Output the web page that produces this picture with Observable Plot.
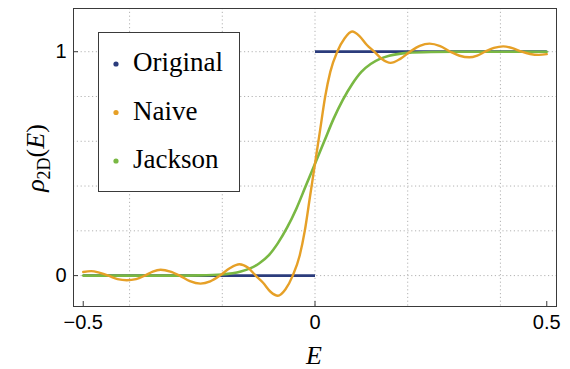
<!DOCTYPE html>
<html>
<head>
<meta charset="utf-8">
<script src="https://cdn.jsdelivr.net/npm/d3@7"></script>
<script src="https://cdn.jsdelivr.net/npm/@observablehq/plot@0.6"></script>
<style>
  html, body { margin: 0; padding: 0; background: #fff; }
  #chart { width: 570px; height: 369px; }
</style>
</head>
<body>
<div id="chart"></div>
<script>
// ---- data ----
const seriesNames = ["Original", "Naive", "Jackson"];
const seriesColors = ["#2b3c7c", "#e6a027", "#79b843"];

// Original: step function, as two horizontal pieces
const origStart = [-0.5, 0];
const origEnd = [0, 0.5];
const origLevel = [0, 1];

// Naive (Gibbs oscillations)
const naiveE = [
  -0.500, -0.483, -0.464, -0.446, -0.426, -0.406, -0.386, -0.367, -0.350, -0.333,
  -0.312, -0.292, -0.270, -0.247, -0.226, -0.205, -0.184, -0.163, -0.145, -0.128,
  -0.112, -0.096, -0.080, -0.064, -0.048, -0.033, -0.022, -0.011, 0.000,
  0.011, 0.022, 0.033, 0.048, 0.064, 0.080, 0.096, 0.112, 0.128, 0.145,
  0.163, 0.184, 0.205, 0.226, 0.247, 0.270, 0.292, 0.312, 0.333, 0.350,
  0.367, 0.386, 0.406, 0.426, 0.446, 0.464, 0.483, 0.500
];
const naiveRho = [
  0.016, 0.020, 0.012, 0.000, -0.016, -0.021, -0.016, 0.000, 0.018, 0.026,
  0.018, 0.000, -0.025, -0.036, -0.026, 0.000, 0.033, 0.051, 0.036, 0.000,
  -0.032, -0.072, -0.090, -0.062, 0.000, 0.090, 0.200, 0.350, 0.500,
  0.650, 0.800, 0.910, 1.000, 1.060, 1.090, 1.070, 1.030, 1.000, 0.966,
  0.950, 0.968, 1.000, 1.026, 1.036, 1.025, 1.000, 0.982, 0.975, 0.983,
  1.000, 1.017, 1.024, 1.016, 1.000, 0.990, 0.986, 0.989
];

// Jackson (smoothed)
const jacksonE = [
  -0.50, -0.30, -0.25, -0.20, -0.16, -0.14, -0.12, -0.10, -0.08, -0.06, -0.04, -0.02,
  0.00, 0.02, 0.04, 0.06, 0.08, 0.10, 0.12, 0.14, 0.16, 0.20, 0.25, 0.30, 0.50
];
const jacksonRho = [
  0.000, 0.000, 0.001, 0.005, 0.018, 0.032, 0.055, 0.090, 0.145, 0.215, 0.300, 0.400,
  0.500, 0.600, 0.700, 0.785, 0.855, 0.910, 0.945, 0.968, 0.982, 0.995, 0.999, 1.000, 1.000
];

const xTicks = [-0.5, 0, 0.5];
const yTicks = [0, 1];
const xGrid = [-0.4, -0.2, 0, 0.2, 0.4];
const yGrid = [0, 0.2, 0.4, 0.6, 0.8, 1];

// ---- tables ----
const original = origStart.map((s, i) => ({x1: s, x2: origEnd[i], y: origLevel[i]}));
const naive = naiveE.map((e, i) => ({E: e, rho: naiveRho[i]}));
const jackson = jacksonE.map((e, i) => ({E: e, rho: jacksonRho[i]}));

const gridStyle = {stroke: "#b3b3b3", strokeOpacity: 1, strokeWidth: 1, strokeDasharray: "1.2,2.6"};

const svg = Plot.plot({
  width: 570,
  height: 369,
  marginLeft: 73,
  marginRight: 14,
  marginTop: 8,
  marginBottom: 63,
  x: {domain: [-0.521, 0.521]},
  y: {domain: [-0.138, 1.193]},
  style: {fontFamily: "Liberation Sans, Arial, sans-serif", fontSize: "20px", color: "#000", background: "#fff"},
  marks: [
    Plot.gridX(xGrid, gridStyle),
    Plot.gridY(yGrid, gridStyle),
    Plot.link(original, {x1: "x1", x2: "x2", y1: "y", y2: "y", stroke: seriesColors[0], strokeWidth: 2.8}),
    Plot.line(jackson, {x: "E", y: "rho", stroke: seriesColors[2], strokeWidth: 2.6, curve: "monotone-x"}),
    Plot.line(naive, {x: "E", y: "rho", stroke: seriesColors[1], strokeWidth: 2.4, curve: "monotone-x"}),
    Plot.frame({stroke: "#3a3a3a", strokeWidth: 1}),
    Plot.axisX(xTicks, {tickSize: -5, tickPadding: 13, fontSize: 20, tickFormat: d3.format(".1~f"), label: null, stroke: "#3a3a3a"}),
    Plot.axisY(yTicks, {tickSize: -5, tickPadding: 12, fontSize: 20, tickFormat: d3.format("d"), label: null, stroke: "#3a3a3a"})
  ]
});

document.getElementById("chart").appendChild(svg);

// ---- axis labels and legend ----
const s = d3.select(svg);
const serif = "Liberation Serif, 'Times New Roman', serif";

s.append("text")
  .attr("x", 314).attr("y", 364)
  .attr("text-anchor", "middle")
  .attr("font-family", serif).attr("font-size", 26).attr("font-style", "italic")
  .attr("fill", "#000")
  .text("E");

const yl = s.append("text")
  .attr("transform", "translate(44,158) rotate(-90)")
  .attr("text-anchor", "middle")
  .attr("font-family", serif).attr("font-size", 26)
  .attr("fill", "#000");
yl.append("tspan").attr("font-style", "italic").text("ρ");
yl.append("tspan").attr("font-size", 18).attr("dy", 6).text("2D");
yl.append("tspan").attr("dy", -6).text("(");
yl.append("tspan").attr("font-style", "italic").text("E");
yl.append("tspan").text(")");

const lg = s.append("g");
lg.append("rect")
  .attr("x", 98.5).attr("y", 32.5).attr("width", 141).attr("height", 159)
  .attr("fill", "#fff").attr("stroke", "#3a3a3a").attr("stroke-width", 1);
seriesNames.forEach((name, i) => {
  const cy = 62 + i * 48.5;
  lg.append("circle").attr("cx", 116).attr("cy", cy + 2).attr("r", 2.6).attr("fill", seriesColors[i]);
  lg.append("text")
    .attr("x", 133).attr("y", cy + 9)
    .attr("text-anchor", "start")
    .attr("font-family", serif).attr("font-size", 27)
    .attr("fill", "#000")
    .text(name);
});
</script>
</body>
</html>
